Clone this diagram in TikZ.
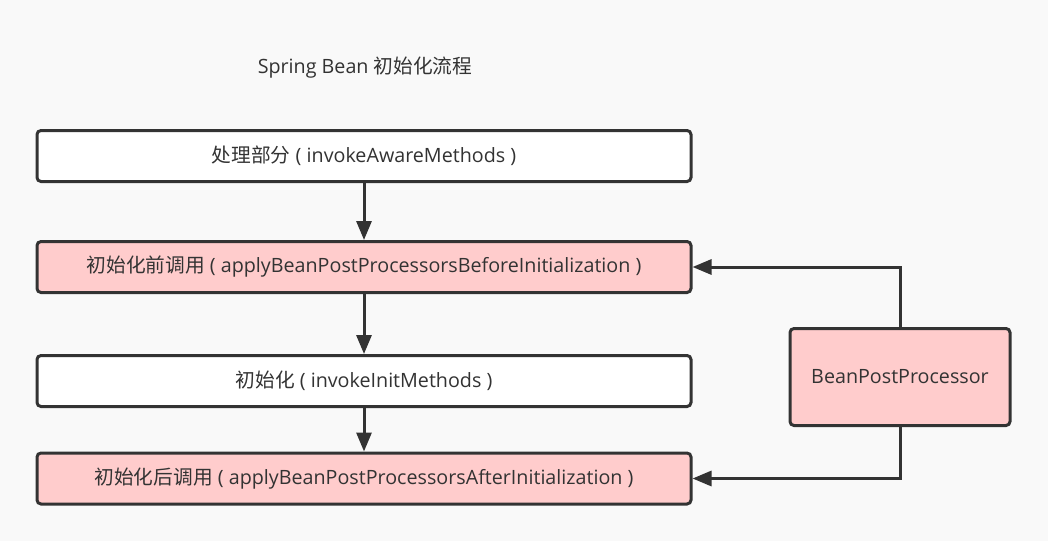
\documentclass[tikz,border=0pt]{standalone}
\usepackage{fontspec}
\setmainfont{Open Sans}
\newfontfamily\cjk{Noto Sans CJK SC}
\usetikzlibrary{arrows.meta}
\definecolor{bg}{HTML}{F9F9F9}
\definecolor{ln}{HTML}{333333}
\definecolor{pk}{HTML}{FFCCCC}
\tikzset{
  lbl/.style={text=ln, font=\fontsize{19.7}{22}\selectfont},
  box/.style={lbl, draw=ln, line width=3pt, rounded corners=4pt, minimum height=51pt, inner sep=0pt},
  wide/.style={box, minimum width=654pt},
  conn/.style={draw=ln, line width=3pt, -{Triangle[length=19pt,width=15pt]}}
}
\begin{document}
\begin{tikzpicture}[x=1pt,y=-1pt]
\fill[bg] (0,0) rectangle (1048,541);
\useasboundingbox (0,0) rectangle (1048,541);
\node[lbl] (title) at (365,68) {Spring Bean {\cjk 初始化流程}};
\node[wide, fill=white] (b1) at (364,156) {{\cjk 处理部分} ( invokeAwareMethods )};
\node[wide, fill=pk] (b2) at (364,267) {{\cjk 初始化前调用} ( applyBeanPostProcessorsBeforeInitialization )};
\node[wide, fill=white] (b3) at (364,381) {{\cjk 初始化} ( invokeInitMethods )};
\node[wide, fill=pk] (b4) at (364,478.5) {{\cjk 初始化后调用} ( applyBeanPostProcessorsAfterInitialization )};
\node[box, fill=pk, minimum width=220pt, minimum height=97pt] (bpp) at (900,377) {BeanPostProcessor};
\draw[conn] (b1) -- (b2);
\draw[conn] (b2) -- (b3);
\draw[conn] (b3) -- (b4);
\draw[conn] (bpp.north) |- (b2.east);
\draw[conn] (bpp.south) |- (b4.east);
\end{tikzpicture}
\end{document}
